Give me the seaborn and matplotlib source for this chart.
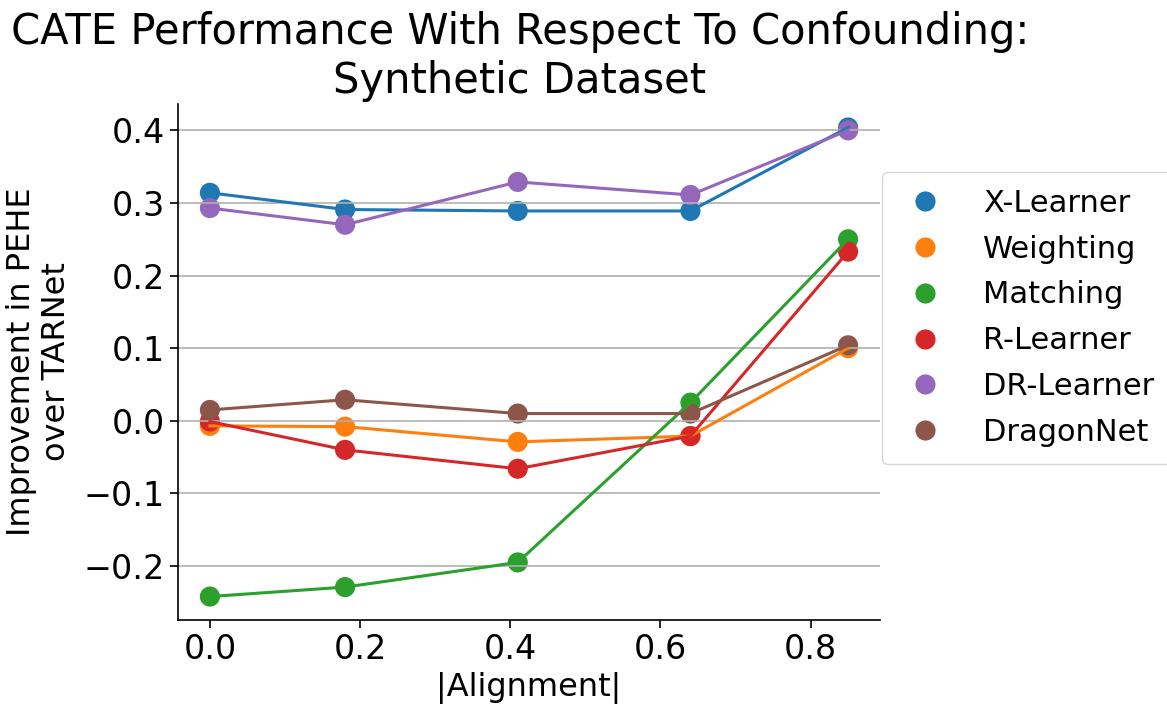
import matplotlib
matplotlib.use("Agg")
import matplotlib.pyplot as plt
import seaborn as sns
import pandas as pd

# |Alignment| levels evaluated
alignment = [0.0, 0.18, 0.41, 0.64, 0.85]

# Improvement in PEHE over TARNet for each estimator
x_learner = [0.314, 0.291, 0.289, 0.289, 0.404]
weighting = [-0.007, -0.008, -0.029, -0.021, 0.100]
matching = [-0.242, -0.229, -0.195, 0.025, 0.250]
r_learner = [-0.001, -0.040, -0.066, -0.021, 0.233]
dr_learner = [0.293, 0.270, 0.329, 0.311, 0.400]
dragonnet = [0.015, 0.029, 0.010, 0.010, 0.104]

methods = ["X-Learner", "Weighting", "Matching", "R-Learner", "DR-Learner", "DragonNet"]
series = [x_learner, weighting, matching, r_learner, dr_learner, dragonnet]

df = pd.DataFrame(
    [(a, v, m) for m, vals in zip(methods, series) for a, v in zip(alignment, vals)],
    columns=["alignment", "improvement", "method"],
)

fig = plt.figure(figsize=(11.67, 7.08), dpi=100)
ax = fig.add_axes([178 / 1167, 1 - 620 / 708, 702 / 1167, 516 / 708])

palette = sns.color_palette("tab10", len(methods))

sns.scatterplot(data=df, x="alignment", y="improvement", hue="method",
                hue_order=methods, palette=palette, s=210, edgecolor="none",
                ax=ax, legend=True)
sns.lineplot(data=df, x="alignment", y="improvement", hue="method",
             hue_order=methods, palette=palette, linewidth=2.2,
             ax=ax, legend=False)

ax.yaxis.grid(True, color="#b0b0b0", linewidth=1.2)
ax.xaxis.grid(False)
sns.despine(ax=ax)
for s in ["left", "bottom"]:
    ax.spines[s].set_linewidth(1.2)

ax.set_xticks([0.0, 0.2, 0.4, 0.6, 0.8])
ax.set_yticks([-0.2, -0.1, 0.0, 0.1, 0.2, 0.3, 0.4])
ax.tick_params(axis="both", labelsize=24, width=1.2, length=6)
ax.set_xlabel("|Alignment|", fontsize=23, labelpad=4)
ax.set_ylabel("Improvement in PEHE\nover TARNet", fontsize=23, labelpad=8)
ax.set_title("CATE Performance With Respect To Confounding:\nSynthetic Dataset",
             fontsize=30, pad=8, x=0.487)

handles, labels = ax.get_legend_handles_labels()
leg = ax.legend(handles, labels, loc="upper left",
                bbox_to_anchor=(882 / 1167, 1 - 172 / 708),
                bbox_transform=fig.transFigure, borderaxespad=0,
                fontsize=22, markerscale=1.0, handlelength=1.7,
                handletextpad=1.05, labelspacing=0.55, borderpad=0.55,
                frameon=True)
leg.get_frame().set_edgecolor("#cccccc")

fig.savefig("out.png", dpi=100)
